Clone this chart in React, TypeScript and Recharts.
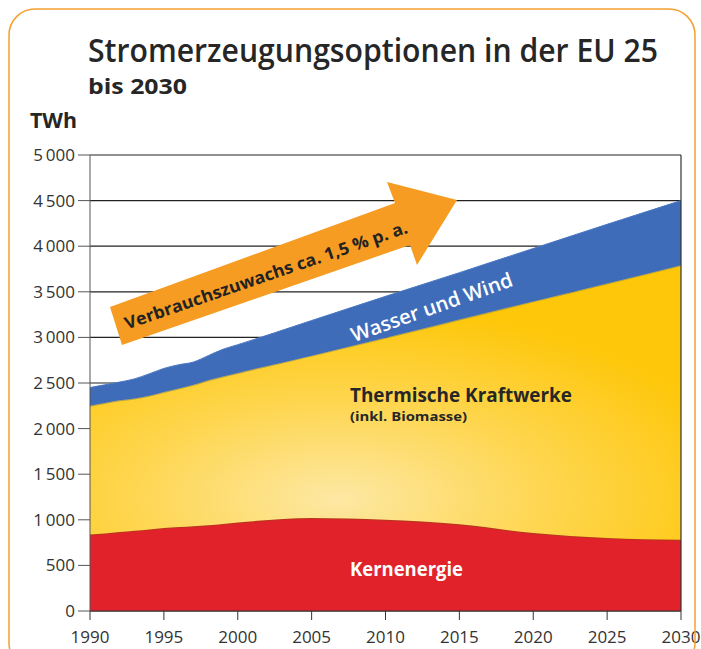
import React from 'react'
import { AreaChart, Area, XAxis, YAxis, CartesianGrid, ReferenceLine } from 'recharts'

// --- data (TWh) ---
const years = [1990, 1991, 1992, 1993, 1994, 1995, 1996, 1997, 1998, 1999, 2000, 2005, 2010, 2015, 2020, 2025, 2030]
const kernenergie = [840, 850, 865, 880, 895, 910, 920, 930, 940, 955, 970, 1020, 1000, 950, 855, 800, 780]
const thermisch = [1410, 1430, 1445, 1450, 1465, 1490, 1520, 1550, 1590, 1615, 1640, 1780, 1995, 2245, 2540, 2790, 3010]
const wasserWind = [200, 200, 200, 215, 240, 260, 260, 250, 270, 300, 310, 385, 455, 515, 580, 650, 710]

const xTicks = [1990, 1995, 2000, 2005, 2010, 2015, 2020, 2025, 2030]
const yTicks = [0, 500, 1000, 1500, 2000, 2500, 3000, 3500, 4000, 4500, 5000]

const data = years.map((year, i) => ({
  year,
  kern: kernenergie[i],
  thermisch: thermisch[i],
  wasser: wasserWind[i],
}))

const fmt = (v: number) => (v >= 1000 ? String(v).replace(/(\d)(\d{3})$/, '$1\u2009$2') : String(v))

const W = 701
const H = 649
const FONT = '"Open Sans", "Noto Sans", sans-serif'

export default function App() {
  return (
    <div style={{ position: 'absolute', left: 0, top: 0, width: W, height: H, background: '#fff', overflow: 'hidden' }}>
      <AreaChart width={W} height={H} data={data} margin={{ top: 155, right: 20, left: 30, bottom: 8 }}>
        <defs>
          <radialGradient id="gelb" cx="42%" cy="85%" r="70%">
            <stop offset="0%" stopColor="#fde8a4" />
            <stop offset="50%" stopColor="#fed650" />
            <stop offset="100%" stopColor="#fec70a" />
          </radialGradient>
        </defs>
        <CartesianGrid horizontal vertical={false} stroke="#222" strokeWidth={1.2} />
        <XAxis
          dataKey="year"
          type="number"
          domain={[1990, 2030]}
          ticks={xTicks}
          height={30}
          tickSize={9}
          tickMargin={11}
          stroke="#333"
          tick={{ fill: '#333', fontSize: 17, fontFamily: FONT }}
        />
        <YAxis
          domain={[0, 5000]}
          ticks={yTicks}
          width={60}
          tickSize={12}
          tickMargin={3}
          stroke="#555"
          tickFormatter={fmt}
          tick={{ fill: '#333', fontSize: 17, fontFamily: FONT }}
        />
        <Area
          type="monotone"
          dataKey="kern"
          stackId="a"
          fill="#e1222a"
          fillOpacity={1}
          stroke="#b8361c"
          strokeWidth={2}
          isAnimationActive={false}
        />
        <Area
          type="monotone"
          dataKey="thermisch"
          stackId="a"
          fill="url(#gelb)"
          fillOpacity={1}
          stroke="#8f8a4a"
          strokeOpacity={0.6}
          strokeWidth={2}
          isAnimationActive={false}
        />
        <Area
          type="monotone"
          dataKey="wasser"
          stackId="a"
          fill="#3f6cb9"
          fillOpacity={1}
          stroke="#4a78c4"
          strokeWidth={1}
          isAnimationActive={false}
        />
        <ReferenceLine x={2030} stroke="#333" strokeWidth={1.2} />
      </AreaChart>

      <svg
        width={W}
        height={H}
        style={{ position: 'absolute', left: 0, top: 0, pointerEvents: 'none' }}
        fontFamily={FONT}
      >
        <rect x={9} y={9} width={686} height={660} rx={26} fill="none" stroke="#f5a030" strokeWidth={1.5} />
        <text x={88} y={62} fontSize={33} fontWeight={600} fill="#262626" textLength={570} lengthAdjust="spacingAndGlyphs">
          Stromerzeugungsoptionen in der EU 25
        </text>
        <text x={88} y={94} fontSize={21} fontWeight={700} fill="#262626" textLength={99} lengthAdjust="spacingAndGlyphs">
          bis 2030
        </text>
        <text x={30} y={128} fontSize={22} fontWeight={700} fill="#262626" textLength={47} lengthAdjust="spacingAndGlyphs">
          TWh
        </text>

        <polygon
          points="110,307 395,203 387,182 457,200 417,265 410,245 122,345"
          fill="#f69c22"
        />
        <text
          x={268}
          y={281}
          fontSize={17}
          fontWeight={700}
          fill="#222"
          textAnchor="middle"
          textLength={298}
          lengthAdjust="spacingAndGlyphs"
          transform="rotate(-19 268 281)"
        >
          Verbrauchszuwachs ca. 1,5 % p. a.
        </text>

        <text
          x={434}
          y={314}
          fontSize={20}
          fontWeight={600}
          fill="#fff"
          textAnchor="middle"
          textLength={170}
          lengthAdjust="spacingAndGlyphs"
          transform="rotate(-19.5 434 314)"
        >
          Wasser und Wind
        </text>
        <text x={350} y={402} fontSize={19} fontWeight={700} fill="#262626" textLength={222} lengthAdjust="spacingAndGlyphs">
          Thermische Kraftwerke
        </text>
        <text x={350} y={421} fontSize={13} fontWeight={700} fill="#262626" textLength={117} lengthAdjust="spacingAndGlyphs">
          (inkl. Biomasse)
        </text>
        <text x={350} y={576} fontSize={19} fontWeight={700} fill="#fff" textLength={113} lengthAdjust="spacingAndGlyphs">
          Kernenergie
        </text>
      </svg>
    </div>
  )
}
